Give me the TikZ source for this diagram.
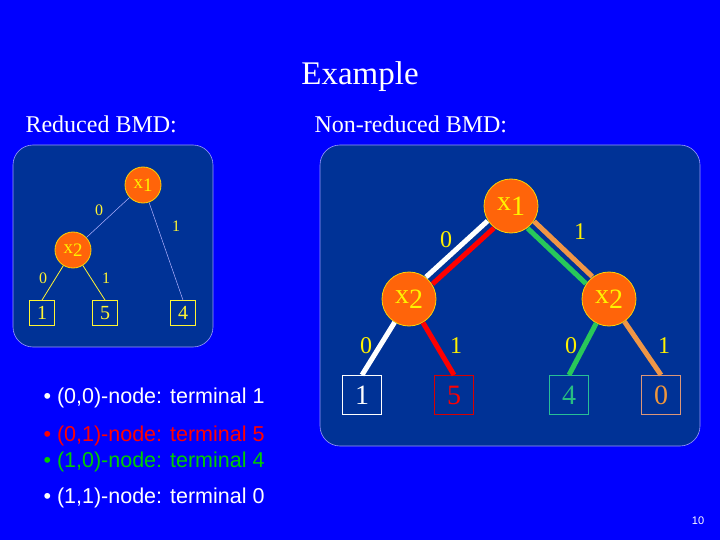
\documentclass[tikz,border=0pt]{standalone}
\usepackage{fontspec}
\setmainfont{Liberation Serif}
\newfontfamily\arial{Liberation Sans}
\definecolor{pnl}{RGB}{0,50,150}
\definecolor{orn}{RGB}{255,100,10}
\definecolor{gbox}{RGB}{40,190,150}
\definecolor{gtxt}{RGB}{40,190,130}
\definecolor{obox}{RGB}{220,150,120}
\definecolor{otxt}{RGB}{240,150,60}
\definecolor{oline}{RGB}{240,150,70}
\definecolor{gline}{RGB}{40,200,90}
\begin{document}
\begin{tikzpicture}[x=1pt,y=-1pt,
  panel/.style={draw=white!60!blue,fill=pnl,rounded corners=20pt,line width=0.6pt},
  vs/.style={circle,fill=orn,draw=yellow!70!orange,line width=0.8pt,text=yellow,inner sep=0pt,minimum size=36pt,font=\fontsize{19}{19}\selectfont},
  vb/.style={vs,minimum size=54pt,font=\fontsize{28}{28}\selectfont},
  ts/.style={draw=yellow!80!white,line width=0.8pt,text=yellow!80!white,minimum size=25pt,inner sep=0pt,font=\fontsize{20}{20}\selectfont},
  tb/.style={draw,line width=1pt,minimum size=39pt,inner sep=0pt,font=\fontsize{28}{28}\selectfont},
  lbs/.style={text=yellow!80!white,font=\fontsize{16}{16}\selectfont},
  lbb/.style={text=yellow,font=\fontsize{24}{24}\selectfont},
  thin/.style={draw=white!70!blue,line width=0.5pt},
  thick/.style={line width=5pt},
  bul/.style={anchor=west,font=\arial\fontsize{21.5}{21.5}\selectfont}]
\fill[blue] (0,0) rectangle (720,540);
\useasboundingbox (0,0) rectangle (720,540);
\newcommand\xs[1]{x\raisebox{-0.35ex}{#1}}
\node[white,font=\fontsize{33}{33}\selectfont] (title) at (360,77) {Example};
\node[white,font=\fontsize{24}{24}\selectfont,anchor=west] (rl) at (22,124) {Reduced BMD:};
\node[white,font=\fontsize{24}{24}\selectfont,anchor=west] (nl) at (311,124) {Non-reduced BMD:};
% left panel
\draw[panel] (13,145) rectangle (213,347);
\node[vs] (a1) at (143,185) {\xs1};
\node[vs] (a2) at (73,250) {\xs2};
\node[ts] (t1) at (42,313) {1};
\node[ts] (t5) at (105,313) {5};
\node[ts] (t4) at (183,313) {4};
\draw[thin] (a1) -- (a2);
\draw[thin] (a1) -- (t4.north);
\draw[yellow!80!white,line width=0.8pt] (a2) -- (t1.north);
\draw[yellow!80!white,line width=0.8pt] (a2) -- (t5.north);
\node[lbs] (l1) at (99,210) {0};
\node[lbs] (l2) at (176,226) {1};
\node[lbs] (l3) at (43,278) {0};
\node[lbs] (l4) at (106,278) {1};
% right panel
\draw[panel] (320,145) rectangle (700,446);
\node[vb] (b1) at (511,206) {\xs1};
\node[vb] (b2) at (409,299) {\xs2};
\node[vb] (b3) at (609,299) {\xs2};
\node[tb,white] (u1) at (362,395) {1};
\node[tb,draw=red!85!black,text=red] (u5) at (454,395) {5};
\node[tb,draw=gbox,text=gtxt] (u4) at (569,395) {4};
\node[tb,draw=obox,text=otxt] (u0) at (661,395) {0};
\draw[thick,white,transform canvas={shift={(-3.2pt,3.5pt)}}] (b1) -- (b2);
\draw[thick,red,transform canvas={shift={(3.2pt,-3.5pt)}}] (b1) -- (b2);
\draw[thick,oline,transform canvas={shift={(3.2pt,3.5pt)}}] (b1) -- (b3);
\draw[thick,gline,transform canvas={shift={(-3.2pt,-3.5pt)}}] (b1) -- (b3);
\draw[thick,white] (b2) -- (u1.north);
\draw[thick,red] (b2) -- (u5.north);
\draw[thick,gline] (b3) -- (u4.north);
\draw[thick,oline] (b3) -- (u0.north);
\node[lbb] (m1) at (446,240) {0};
\node[lbb] (m2) at (580,232) {1};
\node[lbb] (m3) at (366,346) {0};
\node[lbb] (m4) at (456,346) {1};
\node[lbb] (m5) at (571,346) {0};
\node[lbb] (m6) at (664,346) {1};
% bullets
\node[bul,white] (p1) at (40,398) {• (0,0)-node: terminal 1};
\node[bul,red] (p2) at (40,436) {• (0,1)-node: terminal 5};
\node[bul,green!80!black] (p3) at (40,462) {• (1,0)-node: terminal 4};
\node[bul,white] (p4) at (40,498) {• (1,1)-node: terminal 0};
\node[white,font=\arial\fontsize{11}{11}\selectfont] (pg) at (698,521) {10};
\end{tikzpicture}
\end{document}
